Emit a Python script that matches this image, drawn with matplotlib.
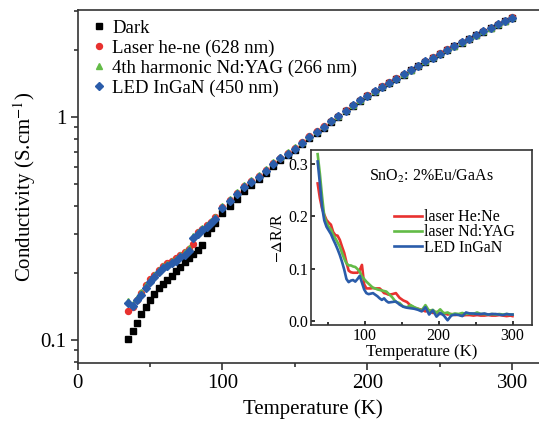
import numpy as np
import matplotlib
matplotlib.use("Agg")
import matplotlib.pyplot as plt
from matplotlib.ticker import LogLocator, FixedLocator, NullFormatter, MultipleLocator

plt.rcParams['font.family'] = ['Liberation Serif', 'DejaVu Serif']
plt.rcParams['mathtext.fontset'] = 'stix'

# main panel: conductivity vs temperature
T = [35, 38, 41, 44, 47, 50, 53, 56, 59, 62, 65, 68, 71, 74, 77, 80, 83, 86, 89, 92, 95,
     100, 105, 110, 115, 120, 125, 130, 135, 140, 145, 150, 155, 160, 165, 170, 175, 180,
     185, 190, 195, 200, 205, 210, 215, 220, 225, 230, 235, 240, 245, 250, 255, 260, 265,
     270, 275, 280, 285, 290, 295, 300]

dark = [0.1007, 0.1097, 0.1188, 0.1304, 0.1406, 0.1512, 0.1608, 0.1716, 0.1788, 0.1858,
        0.1936, 0.2032, 0.2125, 0.2230, 0.2324, 0.2430, 0.2540, 0.2667, 0.3030, 0.3190, 0.3336,
        0.372, 0.400, 0.430, 0.468, 0.497, 0.527, 0.561, 0.605, 0.640, 0.676, 0.714, 0.758,
        0.808, 0.853, 0.898, 0.955, 1.005, 1.065, 1.125, 1.185, 1.245, 1.305, 1.365, 1.425,
        1.487, 1.555, 1.625, 1.695, 1.775, 1.845, 1.925, 2.005, 2.085, 2.165, 2.245, 2.335,
        2.425, 2.515, 2.605, 2.695, 2.795]

laser_hene = [0.135, 0.141, 0.152, 0.163, 0.176, 0.187, 0.196, 0.207, 0.215, 0.221,
              0.227, 0.233, 0.241, 0.248, 0.256, 0.270, 0.305, 0.316, 0.327, 0.339, 0.355,
              0.394, 0.424, 0.456, 0.491, 0.517, 0.545, 0.579, 0.624, 0.658, 0.692, 0.729,
              0.771, 0.820, 0.865, 0.910, 0.965, 1.015, 1.075, 1.135, 1.195, 1.255, 1.315,
              1.375, 1.435, 1.495, 1.565, 1.635, 1.705, 1.785, 1.855, 1.935, 2.015, 2.095,
              2.175, 2.255, 2.345, 2.435, 2.525, 2.615, 2.705, 2.805]

nd_yag = [0.150, 0.145, 0.155, 0.164, 0.176, 0.186, 0.195, 0.206, 0.214, 0.220,
          0.226, 0.232, 0.240, 0.248, 0.258, 0.292, 0.306, 0.318, 0.330, 0.342, 0.358,
          0.400, 0.428, 0.460, 0.495, 0.522, 0.549, 0.583, 0.628, 0.662, 0.696, 0.733,
          0.775, 0.823, 0.868, 0.913, 0.968, 1.018, 1.078, 1.138, 1.198, 1.258, 1.318,
          1.378, 1.438, 1.498, 1.568, 1.638, 1.708, 1.788, 1.858, 1.938, 2.018, 2.098,
          2.178, 2.258, 2.348, 2.438, 2.528, 2.618, 2.708, 2.808]

led_ingan = [0.147, 0.142, 0.151, 0.160, 0.172, 0.182, 0.191, 0.202, 0.210, 0.215,
             0.221, 0.227, 0.235, 0.242, 0.251, 0.286, 0.300, 0.311, 0.322, 0.334, 0.351,
             0.390, 0.420, 0.452, 0.487, 0.513, 0.540, 0.574, 0.620, 0.653, 0.687, 0.724,
             0.767, 0.816, 0.860, 0.905, 0.960, 1.010, 1.070, 1.130, 1.190, 1.250, 1.310,
             1.370, 1.430, 1.490, 1.560, 1.630, 1.700, 1.780, 1.850, 1.930, 2.010, 2.090,
             2.170, 2.250, 2.340, 2.430, 2.520, 2.610, 2.700, 2.800]

labels = ['Dark', 'Laser he-ne (628 nm)', '4th harmonic Nd:YAG (266 nm)', 'LED InGaN (450 nm)']

# inset: -dR/R vs temperature
Ti = [36, 39, 42, 45, 48, 51, 54, 57, 60, 63, 66, 69, 72, 75, 78, 81, 84, 87, 90, 93, 96, 99,
      102, 105, 108, 111, 114, 117, 120, 123, 126, 129, 132, 137, 142, 147, 152, 157, 162,
      167, 172, 177, 182, 187, 192, 197, 202, 207, 212, 217, 222, 227, 232, 237, 242, 247,
      252, 257, 262, 267, 272, 277, 282, 287, 292, 297, 300]

dr_hene = [0.263, 0.235, 0.215, 0.203, 0.193, 0.188, 0.184, 0.170, 0.164, 0.163, 0.155,
           0.142, 0.130, 0.112, 0.096, 0.093, 0.092, 0.092, 0.092, 0.097, 0.107, 0.070,
           0.062, 0.062, 0.062, 0.063, 0.062, 0.062, 0.062, 0.058, 0.053, 0.052, 0.050,
           0.051, 0.053, 0.044, 0.039, 0.036, 0.029, 0.025, 0.023, 0.021, 0.018, 0.020,
           0.015, 0.017, 0.013, 0.015, 0.012, 0.013, 0.011, 0.012, 0.010, 0.011, 0.011,
           0.010, 0.011, 0.010, 0.010, 0.011, 0.010, 0.010, 0.011, 0.010, 0.009, 0.010, 0.009]

dr_yag = [0.319, 0.282, 0.238, 0.200, 0.188, 0.180, 0.175, 0.165, 0.158, 0.150, 0.142,
          0.130, 0.119, 0.110, 0.106, 0.106, 0.104, 0.103, 0.099, 0.094, 0.085, 0.080,
          0.075, 0.071, 0.067, 0.063, 0.062, 0.060, 0.059, 0.058, 0.057, 0.056, 0.052,
          0.045, 0.036, 0.034, 0.027, 0.026, 0.030, 0.026, 0.023, 0.020, 0.030, 0.019,
          0.021, 0.015, 0.022, 0.014, 0.016, 0.012, 0.014, 0.013, 0.015, 0.013, 0.014,
          0.013, 0.016, 0.013, 0.013, 0.012, 0.013, 0.012, 0.013, 0.012, 0.013, 0.012, 0.012]

dr_led = [0.305, 0.263, 0.218, 0.192, 0.180, 0.173, 0.166, 0.156, 0.147, 0.137, 0.126,
          0.113, 0.098, 0.080, 0.074, 0.077, 0.078, 0.075, 0.080, 0.086, 0.073, 0.060,
          0.053, 0.051, 0.052, 0.053, 0.050, 0.047, 0.043, 0.040, 0.043, 0.038, 0.035,
          0.036, 0.037, 0.031, 0.027, 0.025, 0.024, 0.023, 0.021, 0.018, 0.026, 0.012,
          0.020, 0.008, 0.015, 0.010, 0.001, 0.010, 0.012, 0.011, 0.009, 0.016, 0.014,
          0.014, 0.013, 0.013, 0.014, 0.012, 0.013, 0.013, 0.012, 0.011, 0.013, 0.012, 0.012]

inset_labels = ['laser He:Ne', 'laser Nd:YAG', 'LED InGaN']

red = '#e8312f'
green = '#63bb47'
blue = '#2a5caa'
grey = '#333333'

fig = plt.figure(figsize=(5.39, 4.22), dpi=100)
ax = fig.add_axes([0.1438, 0.1405, 0.874, 0.835])

ax.plot(T, dark, 's', color='black', ms=4.3, label=labels[0])
ax.plot(T, laser_hene, 'o', color=red, ms=4.3, label=labels[1])
ax.plot(T, nd_yag, '^', color=green, ms=4.5, label=labels[2])
ax.plot(T, led_ingan, 'D', color=blue, ms=3.9, label=labels[3])

ax.set_yscale('log')
ax.set_xlim(0, 325)
ax.set_ylim(0.0791, 3.02)
ax.xaxis.set_major_locator(MultipleLocator(100))
ax.xaxis.set_minor_locator(MultipleLocator(50))
ax.yaxis.set_major_locator(FixedLocator([0.1, 1]))
ax.yaxis.set_minor_locator(LogLocator(base=10, subs=np.arange(2, 10)))
ax.yaxis.set_minor_formatter(NullFormatter())
ax.set_yticklabels(['0.1', '1'])
ax.tick_params(which='major', length=5, width=1.2, labelsize=15, color=grey, pad=3)
ax.tick_params(which='minor', length=3, width=1.2, color=grey)
ax.spines['right'].set_visible(False)
for s in ['left', 'bottom', 'top']:
    ax.spines[s].set_color(grey)
    ax.spines[s].set_linewidth(1.2)
ax.set_xlabel('Temperature (K)', fontsize=15, labelpad=5)
ax.set_ylabel('Conductivity (S.cm$^{-1}$)', fontsize=15, labelpad=2)

ax.legend(loc='upper left', frameon=False, fontsize=13.5, handletextpad=0.05,
          labelspacing=0.14, borderaxespad=0.2, markerscale=1.0, handlelength=1.3,
          borderpad=0.3)

# inset
ins = fig.add_axes([0.577, 0.2299, 0.4095, 0.4147])
ins.plot(Ti, dr_hene, color=red, lw=1.9, label=inset_labels[0])
ins.plot(Ti, dr_yag, color=green, lw=1.9, label=inset_labels[1])
ins.plot(Ti, dr_led, color=blue, lw=1.9, label=inset_labels[2])
ins.set_xlim(27, 326)
ins.set_ylim(-0.008, 0.327)
ins.xaxis.set_major_locator(MultipleLocator(100))
ins.xaxis.set_minor_locator(MultipleLocator(50))
ins.yaxis.set_major_locator(MultipleLocator(0.1))
ins.yaxis.set_major_formatter(matplotlib.ticker.FormatStrFormatter('%.1f'))
ins.tick_params(which='major', direction='in', length=3, labelsize=11.5, pad=2, width=1.1)
ins.tick_params(which='minor', direction='in', length=2, width=1.1)
for s in ins.spines.values():
    s.set_linewidth(1.2)
    s.set_color(grey)
ins.set_xlabel('Temperature (K)', fontsize=12, labelpad=0)
ins.set_ylabel(r'$-\Delta$R/R', fontsize=11.5, labelpad=2)
ins.text(0.545, 0.851, 'SnO$_2$: 2%Eu/GaAs', transform=ins.transAxes, fontsize=11.5,
         ha='center', va='center')
ins.legend(loc='upper right', bbox_to_anchor=(0.975, 0.725), frameon=False, fontsize=11.5,
           handlelength=1.75, handletextpad=0.15, labelspacing=-0.05, borderaxespad=0.3)

fig.savefig('out.png', dpi=100)
